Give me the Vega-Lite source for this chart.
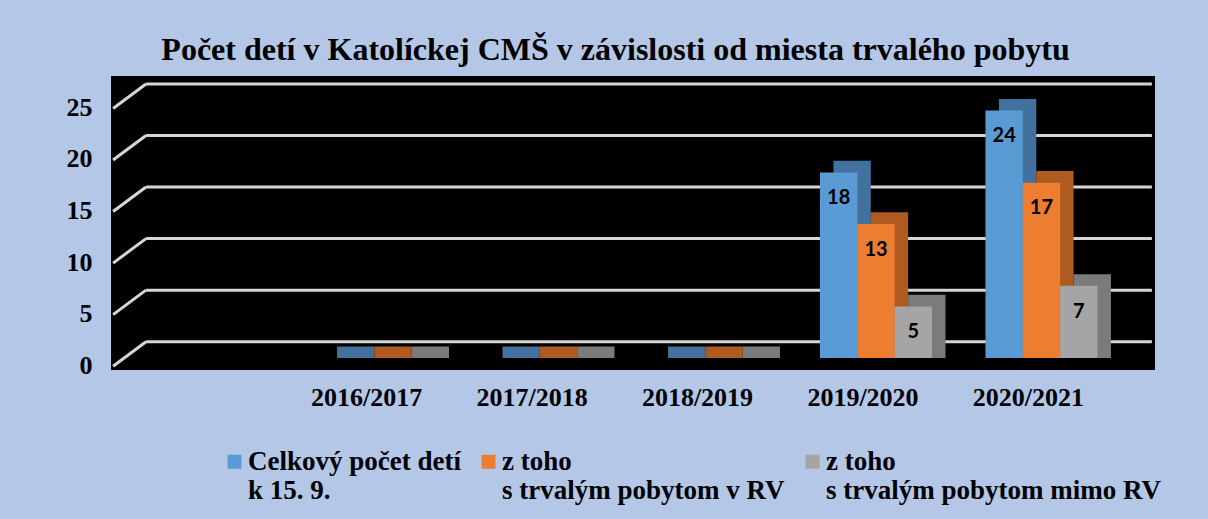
{
  "$schema": "https://vega.github.io/schema/vega-lite/v6.json",
  "width": 1044,
  "height": 294,
  "autosize": "none",
  "padding": {"left": 111, "top": 76, "right": 53, "bottom": 149},
  "background": "#b4c7e7",
  "view": {"fill": "#000000", "stroke": null},
  "title": {
    "text": "Počet detí v Katolíckej CMŠ v závislosti od miesta trvalého pobytu",
    "font": "Liberation Serif",
    "fontSize": 32,
    "fontWeight": "bold",
    "color": "#000000",
    "anchor": "middle",
    "dx": -17.5,
    "dy": 32,
    "offset": 16,
    "baseline": "alphabetic"
  },
  "layer": [
    {
      "data": {"values": [{"tick": 0}, {"tick": 5}, {"tick": 10}, {"tick": 15}, {"tick": 20}, {"tick": 25}]},
      "layer": [
        {
          "mark": {"type": "rule", "color": "#d6d6d6", "strokeWidth": 3, "yOffset": 24.5},
          "encoding": {
            "x": {"datum": 0.002, "type": "quantitative", "scale": {"domain": [0, 1]}, "axis": null},
            "x2": {"datum": 0.0335},
            "y": {
              "field": "tick",
              "type": "quantitative",
              "scale": {"domain": [-2.745, 25.77], "nice": false, "zero": false},
              "axis": {
                "title": null,
                "values": [0, 5, 10, 15, 20, 25],
                "domain": false,
                "grid": false,
                "ticks": false,
                "labelFont": "Liberation Serif",
                "labelFontSize": 26,
                "labelFontWeight": "bold",
                "labelColor": "#000000",
                "labelPadding": 19,
                "labelOffset": 23.5
              }
            },
            "y2": {"field": "tick"}
          }
        },
        {
          "mark": {"type": "rule", "color": "#d6d6d6", "strokeWidth": 3},
          "encoding": {
            "x": {"datum": 0.0335, "type": "quantitative", "axis": null},
            "x2": {"datum": 0.997},
            "y": {"field": "tick", "type": "quantitative"}
          }
        }
      ]
    },
    {
      "data": {
        "values": [
          {"season": "2016/2017", "series": "Celkový počet detí\nk 15. 9.", "value": 0},
          {"season": "2016/2017", "series": "z toho\ns trvalým pobytom v RV", "value": 0},
          {"season": "2016/2017", "series": "z toho\ns trvalým pobytom  mimo RV", "value": 0},
          {"season": "2017/2018", "series": "Celkový počet detí\nk 15. 9.", "value": 0},
          {"season": "2017/2018", "series": "z toho\ns trvalým pobytom v RV", "value": 0},
          {"season": "2017/2018", "series": "z toho\ns trvalým pobytom  mimo RV", "value": 0},
          {"season": "2018/2019", "series": "Celkový počet detí\nk 15. 9.", "value": 0},
          {"season": "2018/2019", "series": "z toho\ns trvalým pobytom v RV", "value": 0},
          {"season": "2018/2019", "series": "z toho\ns trvalým pobytom  mimo RV", "value": 0},
          {"season": "2019/2020", "series": "Celkový počet detí\nk 15. 9.", "value": 18},
          {"season": "2019/2020", "series": "z toho\ns trvalým pobytom v RV", "value": 13},
          {"season": "2019/2020", "series": "z toho\ns trvalým pobytom  mimo RV", "value": 5},
          {"season": "2020/2021", "series": "Celkový počet detí\nk 15. 9.", "value": 24},
          {"season": "2020/2021", "series": "z toho\ns trvalým pobytom v RV", "value": 17},
          {"season": "2020/2021", "series": "z toho\ns trvalým pobytom  mimo RV", "value": 7}
        ]
      },
      "layer": [
        {
          "mark": {"type": "bar", "yOffset": 4.7, "y2Offset": 16.3},
          "encoding": {
            "x": {
              "field": "season",
              "type": "nominal",
              "sort": null,
              "scale": {"paddingInner": 0.323, "paddingOuter": 0.816, "align": 0.787},
              "axis": {
                "title": null,
                "domain": false,
                "ticks": false,
                "grid": false,
                "labelAngle": 0,
                "labelFont": "Liberation Serif",
                "labelFontSize": 26,
                "labelFontWeight": "bold",
                "labelColor": "#000000",
                "labelPadding": 14,
                "labelOffset": -13
              }
            },
            "y": {"field": "value", "type": "quantitative"},
            "y2": {"datum": 0},
            "xOffset": {"field": "series", "type": "nominal", "sort": null, "scale": {"range": [13.5, 125.5]}},
            "color": {
              "field": "series",
              "type": "nominal",
              "sort": null,
              "scale": {"range": ["#41719c", "#ae5a21", "#7b7b7b"]},
              "legend": null
            }
          }
        },
        {
          "mark": {"type": "bar", "yOffset": 16.3, "y2Offset": 16.3},
          "encoding": {
            "x": {"field": "season", "type": "nominal", "sort": null},
            "y": {"field": "value", "type": "quantitative"},
            "y2": {"datum": 0},
            "xOffset": {"field": "series", "type": "nominal", "sort": null},
            "color": {
              "field": "series",
              "type": "nominal",
              "sort": null,
              "scale": {"range": ["#5b9bd5", "#ed7d31", "#a5a5a5"]},
              "legend": {
                "title": null,
                "orient": "none",
                "legendX": 110,
                "legendY": 372,
                "direction": "horizontal",
                "columns": 3,
                "columnPadding": 14,
                "padding": 0,
                "symbolType": "square",
                "symbolSize": 196,
                "symbolStrokeWidth": 0,
                "labelFont": "Liberation Serif",
                "labelFontSize": 27,
                "labelFontWeight": "bold",
                "labelColor": "#000000",
                "labelLimit": 600,
                "labelOffset": 0,
                "labelExpr": "split(datum.label, '\\n')"
              }
            }
          }
        },
        {
          "transform": [{"filter": "datum.value > 0"}],
          "mark": {"type": "text", "font": "Lato", "fontSize": 20, "fontWeight": "bold", "color": "#000000", "baseline": "middle", "yOffset": 42},
          "encoding": {
            "x": {"field": "season", "type": "nominal", "sort": null},
            "y": {"field": "value", "type": "quantitative"},
            "xOffset": {"field": "series", "type": "nominal", "sort": null},
            "text": {"field": "value", "type": "quantitative"}
          }
        }
      ],
      "resolve": {"scale": {"xOffset": "independent", "color": "independent"}}
    }
  ],
  "resolve": {"scale": {"x": "independent"}}
}
